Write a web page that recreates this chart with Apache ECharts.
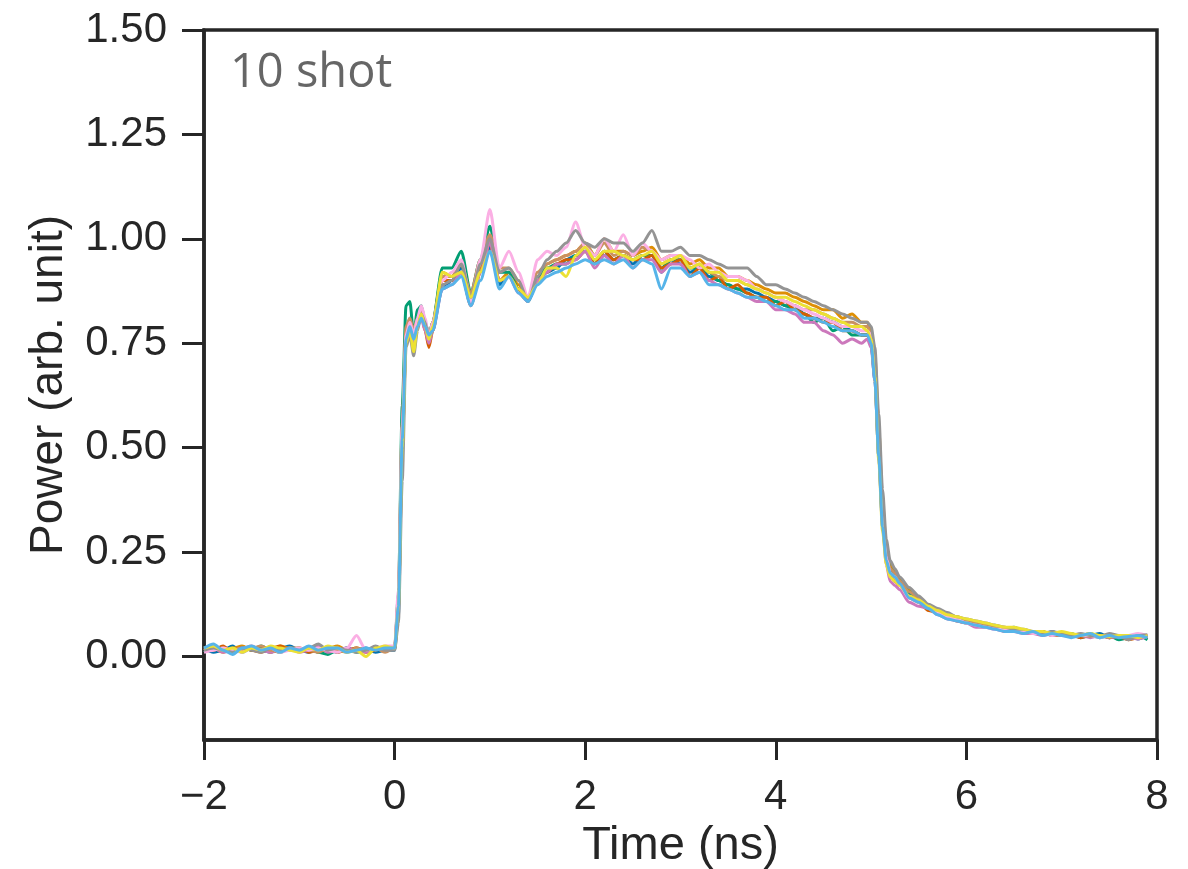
<!DOCTYPE html>
<html><head><meta charset="utf-8">
<script src="https://cdn.jsdelivr.net/npm/echarts@6/dist/echarts.min.js"></script>
<style>html,body{margin:0;padding:0;background:#fff}#c{width:1188px;height:869px}</style>
</head><body><div id="c"></div>
<script>
// time grid (ns)
const T = [-2.0,-1.9,-1.8,-1.7,-1.6,-1.5,-1.4,-1.3,-1.2,-1.1,-1.0,-0.9,-0.8,-0.7,-0.6,-0.5,-0.4,-0.3,-0.2,-0.1,
0.0,0.04,0.08,0.12,0.16,0.2,0.24,0.28,0.32,0.36,
0.4,0.5,0.6,0.7,0.8,0.9,1.0,1.1,1.2,1.3,1.4,1.5,1.6,1.7,1.8,1.9,2.0,2.1,2.2,2.3,2.4,2.5,2.6,2.7,2.8,2.9,3.0,3.1,3.2,3.3,3.4,3.5,3.6,3.7,3.8,3.9,4.0,4.1,4.2,4.3,4.4,4.5,4.6,4.7,4.8,4.9,
4.96,5.0,5.04,5.08,5.12,5.16,5.2,5.25,
5.3,5.4,5.5,5.6,5.7,5.8,5.9,6.0,6.1,6.2,6.3,6.4,6.5,6.6,6.7,6.8,6.9,7.0,7.1,7.2,7.3,7.4,7.5,7.6,7.7,7.8,7.9];

const shot1 = [0.02,0.01,0.015,0.025,0.01,0.02,0.015,0.01,0.02,0.025,0.015,0.01,0.02,0.015,0.01,0.02,0.015,0.02,0.01,0.015,
0.015,0.1,0.5,0.76,0.81,0.77,0.8,0.82,0.8,0.77,
0.79,0.88,0.9,0.93,0.86,0.92,0.98,0.89,0.92,0.88,0.85,0.9,0.92,0.93,0.95,0.96,0.97,0.94,0.97,0.95,0.96,0.94,0.96,0.96,0.92,0.95,0.94,0.92,0.93,0.91,0.9,0.89,0.88,0.88,0.87,0.86,0.85,0.84,0.84,0.82,0.81,0.81,0.8,0.79,0.78,0.77,
0.77,0.75,0.66,0.48,0.32,0.24,0.21,0.2,
0.18,0.15,0.13,0.12,0.11,0.095,0.09,0.085,0.08,0.07,0.075,0.065,0.07,0.06,0.058,0.052,0.06,0.05,0.055,0.045,0.05,0.055,0.045,0.05,0.048,0.042,0.05];
const shot2 = [0.015,0.02,0.01,0.02,0.025,0.015,0.02,0.01,0.025,0.02,0.015,0.02,0.01,0.02,0.025,0.015,0.02,0.015,0.02,0.015,
0.02,0.14,0.55,0.78,0.8,0.78,0.81,0.83,0.79,0.75,
0.8,0.92,0.91,0.94,0.86,0.93,0.99,0.9,0.92,0.89,0.86,0.91,0.94,0.95,0.96,0.97,0.99,0.96,1.0,0.97,0.97,0.96,0.97,0.98,0.95,0.96,0.96,0.94,0.95,0.93,0.93,0.91,0.91,0.9,0.89,0.88,0.87,0.87,0.86,0.85,0.84,0.83,0.83,0.81,0.82,0.8,
0.8,0.78,0.72,0.55,0.37,0.26,0.22,0.2,
0.185,0.16,0.14,0.12,0.11,0.1,0.095,0.085,0.08,0.075,0.07,0.07,0.065,0.06,0.06,0.055,0.055,0.05,0.052,0.05,0.055,0.048,0.05,0.045,0.05,0.048,0.045];
const shot3 = [0.01,0.02,0.015,0.01,0.02,0.015,0.025,0.015,0.01,0.02,0.015,0.02,0.01,0.005,0.015,0.02,0.01,0.015,0.02,0.015,
0.02,0.15,0.6,0.84,0.85,0.77,0.83,0.84,0.8,0.77,
0.8,0.93,0.93,0.97,0.87,0.95,1.03,0.92,0.92,0.88,0.85,0.91,0.93,0.94,0.94,0.96,0.97,0.95,0.96,0.95,0.96,0.95,0.96,0.96,0.93,0.95,0.95,0.93,0.93,0.92,0.9,0.89,0.88,0.87,0.86,0.85,0.85,0.84,0.83,0.82,0.8,0.81,0.78,0.79,0.77,0.77,
0.77,0.75,0.68,0.5,0.34,0.25,0.21,0.2,
0.18,0.155,0.135,0.12,0.11,0.1,0.09,0.085,0.08,0.075,0.07,0.065,0.065,0.06,0.055,0.06,0.05,0.055,0.05,0.048,0.05,0.045,0.05,0.04,0.045,0.05,0.04];
const shot4 = [0.02,0.015,0.025,0.01,0.02,0.015,0.01,0.02,0.025,0.015,0.02,0.01,0.015,0.02,0.01,0.015,0.02,0.01,0.015,0.02,
0.02,0.12,0.52,0.77,0.8,0.76,0.8,0.82,0.78,0.74,
0.78,0.9,0.9,0.92,0.84,0.92,0.99,0.9,0.91,0.88,0.85,0.9,0.92,0.94,0.95,0.95,0.97,0.94,0.97,0.95,0.96,0.95,0.95,0.96,0.93,0.94,0.95,0.91,0.93,0.9,0.91,0.88,0.89,0.87,0.86,0.86,0.84,0.85,0.83,0.82,0.81,0.8,0.8,0.78,0.78,0.77,
0.77,0.75,0.67,0.49,0.33,0.24,0.2,0.18,
0.17,0.14,0.13,0.11,0.105,0.095,0.085,0.08,0.075,0.07,0.07,0.06,0.065,0.058,0.055,0.06,0.05,0.052,0.05,0.045,0.05,0.05,0.045,0.048,0.04,0.045,0.05];
const shot5 = [0.015,0.02,0.01,0.015,0.02,0.025,0.015,0.01,0.015,0.02,0.01,0.015,0.025,0.01,0.015,0.02,0.015,0.01,0.02,0.015,
0.02,0.13,0.5,0.76,0.79,0.75,0.79,0.81,0.78,0.75,
0.78,0.88,0.89,0.92,0.84,0.92,0.99,0.9,0.91,0.87,0.85,0.9,0.92,0.94,0.94,0.95,0.97,0.93,0.96,0.94,0.96,0.93,0.95,0.95,0.92,0.94,0.94,0.91,0.92,0.9,0.89,0.88,0.87,0.86,0.85,0.85,0.83,0.83,0.82,0.8,0.8,0.78,0.77,0.75,0.76,0.75,
0.76,0.74,0.66,0.48,0.31,0.22,0.18,0.17,
0.16,0.13,0.12,0.115,0.1,0.09,0.085,0.08,0.07,0.07,0.065,0.06,0.06,0.055,0.055,0.05,0.055,0.05,0.048,0.05,0.045,0.05,0.045,0.048,0.045,0.042,0.048];
const shot6 = [0.02,0.015,0.02,0.01,0.015,0.02,0.025,0.015,0.01,0.02,0.02,0.015,0.01,0.02,0.015,0.01,0.02,0.015,0.02,0.01,
0.02,0.14,0.56,0.79,0.81,0.78,0.81,0.83,0.8,0.77,
0.8,0.91,0.91,0.94,0.87,0.95,1.01,0.93,0.93,0.9,0.86,0.92,0.94,0.95,0.96,0.97,0.99,0.96,0.99,0.96,0.97,0.96,0.98,0.97,0.94,0.95,0.96,0.93,0.94,0.92,0.91,0.9,0.9,0.89,0.88,0.87,0.86,0.85,0.84,0.83,0.83,0.82,0.81,0.8,0.8,0.79,
0.79,0.77,0.7,0.52,0.35,0.25,0.21,0.2,
0.18,0.155,0.14,0.12,0.11,0.1,0.09,0.085,0.08,0.075,0.07,0.065,0.06,0.06,0.055,0.058,0.05,0.055,0.05,0.05,0.048,0.05,0.045,0.05,0.045,0.048,0.05];
const shot7 = [0.01,0.015,0.02,0.015,0.01,0.02,0.015,0.02,0.01,0.015,0.02,0.015,0.02,0.015,0.01,0.02,0.05,0.015,0.02,0.025,
0.025,0.16,0.55,0.77,0.8,0.77,0.81,0.84,0.81,0.76,
0.8,0.9,0.92,0.95,0.85,0.95,1.07,0.93,0.97,0.92,0.86,0.95,0.97,0.96,0.98,1.04,0.98,0.96,1.0,0.97,1.01,0.96,0.99,0.97,0.95,0.96,0.96,0.95,0.93,0.94,0.92,0.91,0.91,0.9,0.88,0.87,0.86,0.85,0.84,0.83,0.82,0.81,0.8,0.79,0.79,0.78,
0.78,0.77,0.7,0.52,0.34,0.24,0.2,0.19,
0.17,0.14,0.13,0.12,0.105,0.095,0.09,0.08,0.075,0.07,0.065,0.065,0.06,0.06,0.055,0.055,0.05,0.055,0.048,0.05,0.05,0.045,0.05,0.048,0.05,0.055,0.05];
const shot8 = [0.015,0.02,0.015,0.01,0.02,0.015,0.01,0.02,0.015,0.02,0.015,0.02,0.03,0.015,0.02,0.015,0.01,0.015,0.025,0.015,
0.015,0.08,0.42,0.74,0.77,0.72,0.78,0.82,0.8,0.76,
0.78,0.89,0.9,0.94,0.86,0.94,1.0,0.92,0.93,0.9,0.85,0.91,0.95,0.97,0.99,1.02,0.99,0.98,1.0,0.99,0.99,0.97,0.99,1.02,0.97,0.97,0.98,0.96,0.96,0.95,0.94,0.93,0.93,0.93,0.91,0.89,0.89,0.88,0.87,0.86,0.85,0.84,0.83,0.82,0.81,0.8,
0.8,0.79,0.74,0.58,0.4,0.28,0.23,0.21,
0.19,0.165,0.145,0.125,0.115,0.105,0.095,0.09,0.085,0.08,0.075,0.07,0.065,0.065,0.06,0.055,0.06,0.055,0.05,0.055,0.05,0.048,0.055,0.05,0.04,0.05,0.052];
const shot9 = [0.02,0.025,0.015,0.02,0.01,0.02,0.015,0.025,0.02,0.015,0.01,0.02,0.015,0.025,0.02,0.01,0.015,0.0,0.02,0.025,
0.02,0.12,0.5,0.75,0.78,0.73,0.79,0.82,0.79,0.76,
0.79,0.92,0.91,0.92,0.86,0.92,0.97,0.9,0.91,0.88,0.86,0.89,0.93,0.93,0.91,0.96,0.98,0.95,0.97,0.97,0.96,0.95,0.96,0.97,0.94,0.95,0.96,0.93,0.94,0.92,0.92,0.9,0.9,0.89,0.88,0.87,0.86,0.86,0.85,0.84,0.83,0.82,0.81,0.8,0.79,0.79,
0.78,0.76,0.67,0.47,0.3,0.22,0.19,0.18,
0.17,0.145,0.135,0.12,0.11,0.1,0.095,0.09,0.085,0.08,0.075,0.07,0.07,0.065,0.06,0.06,0.055,0.06,0.055,0.05,0.055,0.05,0.048,0.05,0.05,0.045,0.05];
const shot10 = [0.02,0.03,0.015,0.005,0.02,0.025,0.015,0.02,0.01,0.02,0.015,0.025,0.015,0.02,0.02,0.01,0.015,0.02,0.015,0.02,
0.02,0.12,0.52,0.76,0.79,0.76,0.79,0.81,0.79,0.77,
0.78,0.88,0.89,0.91,0.84,0.9,0.97,0.88,0.91,0.87,0.85,0.89,0.91,0.92,0.93,0.94,0.95,0.94,0.95,0.94,0.95,0.93,0.95,0.94,0.88,0.93,0.93,0.91,0.92,0.89,0.89,0.88,0.87,0.86,0.86,0.85,0.84,0.83,0.83,0.81,0.81,0.8,0.79,0.78,0.78,0.77,
0.77,0.75,0.66,0.48,0.31,0.23,0.2,0.19,
0.175,0.14,0.13,0.115,0.1,0.09,0.085,0.08,0.075,0.07,0.065,0.06,0.06,0.055,0.06,0.05,0.055,0.05,0.045,0.05,0.055,0.045,0.05,0.045,0.048,0.05,0.045];

const shots = [shot1,shot2,shot3,shot4,shot5,shot6,shot7,shot8,shot9,shot10];
const colors = ['#0173B2','#DE8F05','#029E73','#D55E00','#CC78BC','#CA9161','#FBAFE4','#949494','#ECE133','#56B4E9'];
const yTicks = [0,0.25,0.5,0.75,1.0,1.25,1.5];
const xTicks = [-2,0,2,4,6,8];
const annotation = '10 shot';

const AX = '#262626';
const FONT = '"Liberation Sans", Arial, sans-serif';

const chart = echarts.init(document.getElementById('c'), null, {renderer:'canvas'});
chart.setOption({
  animation:false,
  backgroundColor:'#fff',
  grid:{left:204,right:31,top:30,bottom:129,show:true,borderColor:AX,borderWidth:3.5,backgroundColor:'transparent',
    containLabel:false,outerBoundsMode:'none'},
  title:{text:annotation,left:225,top:45,textStyle:{fontFamily:'"Open Sans", "Noto Sans", sans-serif',fontSize:47,fontWeight:'normal',color:'#666666'}},
  xAxis:{type:'value',min:-2,max:8,interval:2,
    name:'Time (ns)',nameLocation:'middle',nameGap:80,
    nameTextStyle:{fontFamily:FONT,fontSize:47,color:AX},
    axisLine:{show:true,onZero:false,lineStyle:{color:AX,width:3.5}},
    axisTick:{show:true,inside:false,length:20,lineStyle:{color:AX,width:3},customValues:xTicks},
    axisLabel:{fontFamily:FONT,fontSize:42,color:AX,margin:36,customValues:xTicks,
      formatter:v=>v<0?'\u2212'+Math.abs(v):String(v)},
    splitLine:{show:false}},
  yAxis:{type:'value',min:-0.2,max:1.5,
    name:'Power (arb. unit)',nameLocation:'middle',nameGap:132,
    nameTextStyle:{fontFamily:FONT,fontSize:46,color:AX},
    axisLine:{show:true,onZero:false,lineStyle:{color:AX,width:3.5}},
    axisTick:{show:true,inside:false,length:22,lineStyle:{color:AX,width:3},customValues:yTicks},
    axisLabel:{fontFamily:FONT,fontSize:42,color:AX,margin:37,customValues:yTicks,
      formatter:v=>v.toFixed(2)},
    splitLine:{show:false}},
  series:shots.map((s,k)=>({
    type:'line',name:'shot '+(k+1),
    data:T.map((t,i)=>[t,s[i]]),
    showSymbol:false,smooth:0.25,smoothMonotone:'x',
    lineStyle:{color:colors[k],width:3},
    itemStyle:{color:colors[k]},
    z:2+k
  }))
});
</script>
</body></html>
